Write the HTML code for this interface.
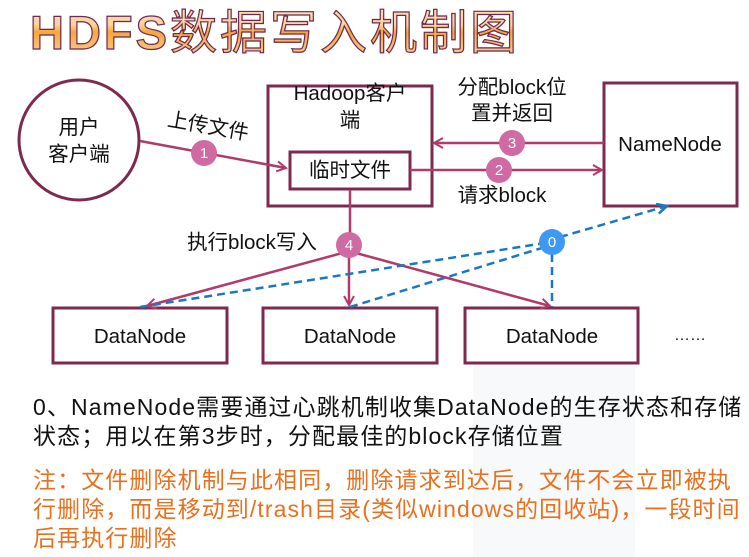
<!DOCTYPE html>
<html><head><meta charset="utf-8">
<style>
html,body{margin:0;padding:0;background:#fff;}
body{width:749px;height:557px;position:relative;overflow:hidden;font-family:"Liberation Sans","Noto Sans CJK SC",sans-serif;}
.title{position:absolute;left:30px;top:-6px;font-size:47px;white-space:nowrap;
background:linear-gradient(#fde7c8 0%,#fbd29a 45%,#f6a63c 55%,#fcd9a6 100%);-webkit-background-clip:text;background-clip:text;color:transparent;
-webkit-text-stroke:1.2px #6b2a55;letter-spacing:3px;}
.title b{font-weight:bold;}
.panel{position:absolute;left:473px;top:362px;width:162px;height:195px;background:#f8f9fb;}
.t{position:absolute;left:33px;font-size:23px;letter-spacing:1.1px;white-space:nowrap;line-height:29px;}
</style></head><body>
<div class="panel"></div>
<div class="title"><b>HDFS</b>数据写入机制图</div>
<svg width="749" height="557" style="position:absolute;left:0;top:0" font-family="Liberation Sans, Noto Sans CJK SC, sans-serif">
<defs>
<marker id="ar" markerWidth="12" markerHeight="12" refX="10" refY="6" orient="auto" markerUnits="userSpaceOnUse"><path d="M1,1 L10,6 L1,11" fill="none" stroke="#b03a6a" stroke-width="2"/></marker>
<marker id="ab" markerWidth="14" markerHeight="12" refX="11" refY="6" orient="auto" markerUnits="userSpaceOnUse"><path d="M1,1 L11,6 L1,11" fill="none" stroke="#1a78c2" stroke-width="2.5"/></marker>
</defs>
<g fill="none" stroke="#7d2a4e" stroke-width="3">
<circle cx="79" cy="140" r="60"/>
<rect x="268" y="86" width="164" height="120"/>
<rect x="290" y="152" width="120" height="37"/>
<rect x="604" y="83" width="133" height="123"/>
<rect x="53" y="308" width="174" height="55"/>
<rect x="263" y="308" width="174" height="55"/>
<rect x="465" y="308" width="173" height="55"/>
</g>
<g stroke="#b03a6a" stroke-width="2.5" fill="none">
<line x1="140" y1="141" x2="286" y2="168" marker-end="url(#ar)"/>
<line x1="604" y1="143" x2="434" y2="143" marker-end="url(#ar)"/>
<line x1="410" y1="170" x2="602" y2="170" marker-end="url(#ar)"/>
<line x1="350" y1="190" x2="350" y2="245"/>
<line x1="346" y1="252" x2="147" y2="306" marker-end="url(#ar)"/>
<line x1="349" y1="250" x2="349" y2="305" marker-end="url(#ar)"/>
<line x1="356" y1="253" x2="550" y2="306" marker-end="url(#ar)"/>
</g>
<g stroke="#1a78c2" stroke-width="2.5" fill="none" stroke-dasharray="8,5">
<line x1="140" y1="307" x2="545" y2="243"/>
<line x1="350" y1="307" x2="545" y2="247"/>
<line x1="552" y1="254" x2="552" y2="307"/>
<line x1="560" y1="237" x2="667" y2="206" marker-end="url(#ab)"/>
</g>
<g font-size="15" fill="#fff" text-anchor="middle">
<circle cx="204" cy="153" r="13" fill="#cf6aa3"/><text x="204" y="158">1</text>
<circle cx="499" cy="170" r="13" fill="#cf6aa3"/><text x="499" y="175">2</text>
<circle cx="512" cy="143" r="13" fill="#cf6aa3"/><text x="512" y="148">3</text>
<circle cx="349" cy="245" r="13" fill="#cf6aa3"/><text x="349" y="250">4</text>
<circle cx="552" cy="242" r="13" fill="#3d9af0"/><text x="552" y="247">0</text>
</g>
<g font-size="20.5" fill="#111" text-anchor="middle">
<text x="79" y="134">用户</text>
<text x="79" y="161">客户端</text>
<text x="350" y="100">Hadoop客户</text>
<text x="350" y="127">端</text>
<text x="350" y="177">临时文件</text>
<text x="670" y="151">NameNode</text>
<text x="140" y="343">DataNode</text>
<text x="350" y="343">DataNode</text>
<text x="552" y="343">DataNode</text>
<text x="690" y="340" font-size="16">……</text>
<text x="512" y="94">分配block位</text>
<text x="512" y="120">置并返回</text>
<text x="502" y="202">请求block</text>
<text x="252" y="249">执行block写入</text>
<text x="208" y="133" transform="rotate(10 208 127)">上传文件</text>
</g>
</svg>
<div class="t" style="top:393px;color:#111">0、NameNode需要通过心跳机制收集DataNode的生存状态和存储</div>
<div class="t" style="top:422px;color:#111">状态；用以在第3步时，分配最佳的block存储位置</div>
<div class="t" style="top:466px;color:#e8701e">注：文件删除机制与此相同，删除请求到达后，文件不会立即被执</div>
<div class="t" style="top:495px;color:#e8701e">行删除，而是移动到/trash目录(类似windows的回收站)，一段时间</div>
<div class="t" style="top:524px;color:#e8701e">后再执行删除</div>
</body></html>
